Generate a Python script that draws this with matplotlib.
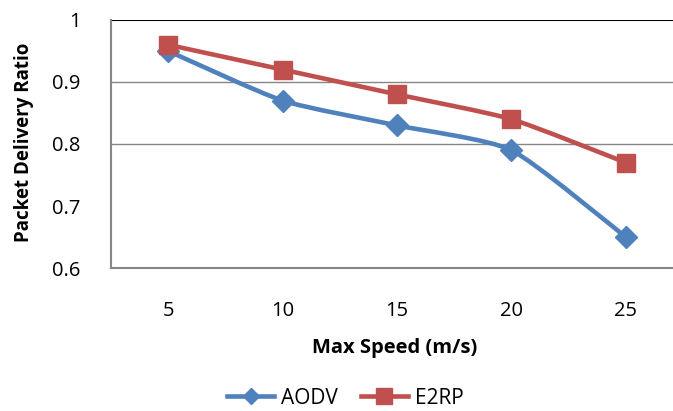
import matplotlib
matplotlib.use("Agg")
import matplotlib.pyplot as plt
from matplotlib.path import Path
from matplotlib.patches import PathPatch
from matplotlib.lines import Line2D
import numpy as np

# data
speeds = ["5", "10", "15", "20", "25"]
aodv = [0.95, 0.87, 0.83, 0.79, 0.65]
e2rp = [0.96, 0.92, 0.88, 0.84, 0.77]

blue = "#4F81BD"
red = "#C0504D"

plt.rcParams["font.family"] = ["Open Sans", "DejaVu Sans"]


def smooth_path(xs, ys, k=1 / 10):
    # Excel-like smoothed line (Catmull-Rom converted to cubic bezier)
    xs = np.asarray(xs, float)
    ys = np.asarray(ys, float)
    verts = [(xs[0], ys[0])]
    codes = [Path.MOVETO]
    n = len(xs)
    for i in range(n - 1):
        i0 = max(i - 1, 0)
        i3 = min(i + 2, n - 1)
        c1 = (xs[i] + (xs[i + 1] - xs[i0]) * k, ys[i] + (ys[i + 1] - ys[i0]) * k)
        c2 = (xs[i + 1] - (xs[i3] - xs[i]) * k, ys[i + 1] - (ys[i3] - ys[i]) * k)
        verts += [c1, c2, (xs[i + 1], ys[i + 1])]
        codes += [Path.CURVE4] * 3
    return Path(verts, codes)


fig = plt.figure(figsize=(6.73, 4.11), dpi=100)
ax = fig.add_axes([111 / 673, 1 - 268 / 411, 572 / 673, 248 / 411])

x = np.arange(len(speeds))
for vals, col, mk, ms in [(aodv, blue, "D", 11), (e2rp, red, "s", 13.5)]:
    ax.add_patch(PathPatch(smooth_path(x, vals), fill=False, edgecolor=col,
                           lw=3.3, capstyle="round", joinstyle="round", zorder=3))
    ax.plot(x, vals, linestyle="none", marker=mk, markersize=ms, color=col, zorder=4)

ax.set_xlim(-0.5, 4.5)
ax.set_ylim(0.6, 1.0)
ax.set_xticks(x)
ax.set_xticklabels(speeds)
ax.set_yticks([0.6, 0.7, 0.8, 0.9, 1.0])
ax.set_yticklabels(["0.6", "0.7", "0.8", "0.9", "1"])
ax.tick_params(length=0, labelsize=14.5, colors="black")
ax.tick_params(axis="x", pad=24)
ax.tick_params(axis="y", pad=22)

for yv in [0.8, 0.9]:
    ax.axhline(yv, color="#868686", lw=1.0, zorder=1)
ax.axhline(1.0, color="black", lw=1.5, zorder=1)

for s in ["top", "right"]:
    ax.spines[s].set_visible(False)
ax.spines["left"].set_color("#868686")
ax.spines["bottom"].set_color("#868686")
ax.spines["left"].set_linewidth(1.5)
ax.spines["bottom"].set_linewidth(1.5)

fig.text(24 / 673, 1 - 142 / 411, "Packet Delivery Ratio", rotation=90,
         ha="center", va="center", fontsize=13.5, fontweight="bold")
fig.text(395 / 673, 1 - 348 / 411, "Max Speed (m/s)", ha="center", va="center",
         fontsize=14.5, fontweight="bold")

handles = [Line2D([], [], color=blue, lw=3.3, marker="D", markersize=8),
           Line2D([], [], color=red, lw=3.3, marker="s", markersize=11)]
fig.legend(handles, ["AODV", "E2RP"], loc="center", bbox_to_anchor=(345 / 673, 1 - 398 / 411),
           ncol=2, frameon=False, fontsize=15, handlelength=2.3, columnspacing=1.1,
           handletextpad=0.3, borderaxespad=0, borderpad=0)

fig.savefig("out.png", dpi=100)
